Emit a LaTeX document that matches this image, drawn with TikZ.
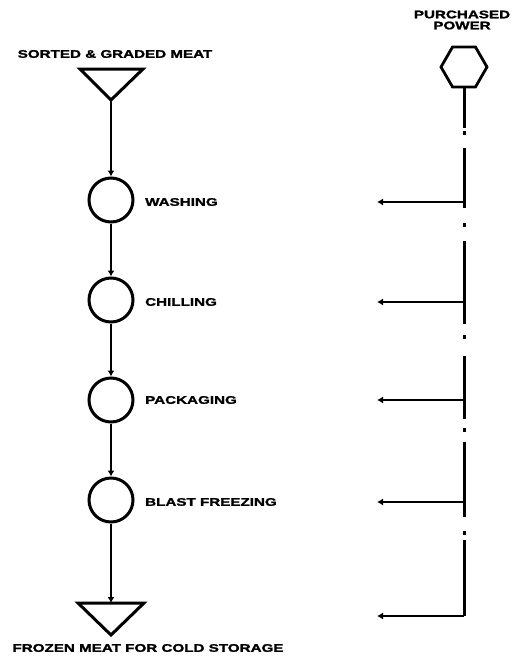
\documentclass[tikz,border=0pt]{standalone}
\usepackage{fontspec}
\newfontfamily\lblfont{Liberation Sans}[FakeStretch=1.38, BoldFeatures={FakeBold=1.6}]
\usetikzlibrary{arrows.meta,shapes.geometric}
\begin{document}
\begin{tikzpicture}[x=1pt,y=-1pt,
  tip/.style={-{Latex[length=6pt,width=7pt]}},
  flow/.style={tip, line width=2.8pt},
  feed/.style={tip, line width=2.6pt},
  op/.style={circle, draw, line width=3pt, minimum size=44pt, inner sep=0pt},
  ends/.style={draw, line width=3pt, line join=miter},
  lbl/.style={font=\lblfont\bfseries\fontsize{11}{11}\selectfont, inner sep=0pt},
  power/.style={line width=3pt,
    dash pattern=on 40pt off 3pt on 4pt off 13pt on 60pt off 15pt on 4pt off 14pt
                 on 83pt off 11pt on 4pt off 17pt on 63pt off 9pt on 4pt off 10pt
                 on 75pt off 14pt on 4pt off 5pt on 90pt off 1pt}]
\useasboundingbox (0,0) rectangle (514,664);

% source and sink (inverted triangles)
\draw[ends] (80,69) -- (143,69) -- (111,100) -- cycle;
\coordinate (src) at (111,100);
\draw[ends] (78,603) -- (144,603) -- (111,635) -- cycle;
\coordinate (sink) at (111,603);
\node[lbl] (srclbl) at (115,54) {SORTED \& GRADED MEAT};
\node[lbl] (sinklbl) at (148,648) {FROZEN MEAT FOR COLD STORAGE};

% process steps
\node[op] (wash) at (111,200) {};
\node[op] (chill) at (111,300) {};
\node[op] (pack) at (111,400) {};
\node[op] (blast) at (111,500) {};
\node[lbl, anchor=west] (washlbl) at (145,202) {WASHING};
\node[lbl, anchor=west] (chilllbl) at (145,302) {CHILLING};
\node[lbl, anchor=west] (packlbl) at (145,400) {PACKAGING};
\node[lbl, anchor=west] (blastlbl) at (145,502) {BLAST FREEZING};

% material flow
\draw[flow] (src) -- (wash.north);
\draw[flow] (wash.south) -- (chill.north);
\draw[flow] (chill.south) -- (pack.north);
\draw[flow] (pack.south) -- (blast.north);
\draw[flow] (blast.south) -- (sink);

% purchased power
\node[regular polygon, regular polygon sides=6, draw, line width=2.8pt,
      minimum size=46pt, inner sep=0pt] (pp) at (464,67) {};
\node[lbl, align=center] (pplbl) at (462,20) {PURCHASED\\[0pt]POWER};
\coordinate (corner) at (464,616);
\draw[power] (pp.south) -- (corner);

\coordinate (tapW) at (464,202);  \coordinate (useW) at (377,202);
\coordinate (tapC) at (464,302);  \coordinate (useC) at (377,302);
\coordinate (tapP) at (464,400);  \coordinate (useP) at (377,400);
\coordinate (tapB) at (464,502);  \coordinate (useB) at (377,502);
\coordinate (useS) at (377,616);
\draw[feed] (tapW) -- (useW);
\draw[feed] (tapC) -- (useC);
\draw[feed] (tapP) -- (useP);
\draw[feed] (tapB) -- (useB);
\draw[feed] (corner) -- (useS);
\end{tikzpicture}
\end{document}
